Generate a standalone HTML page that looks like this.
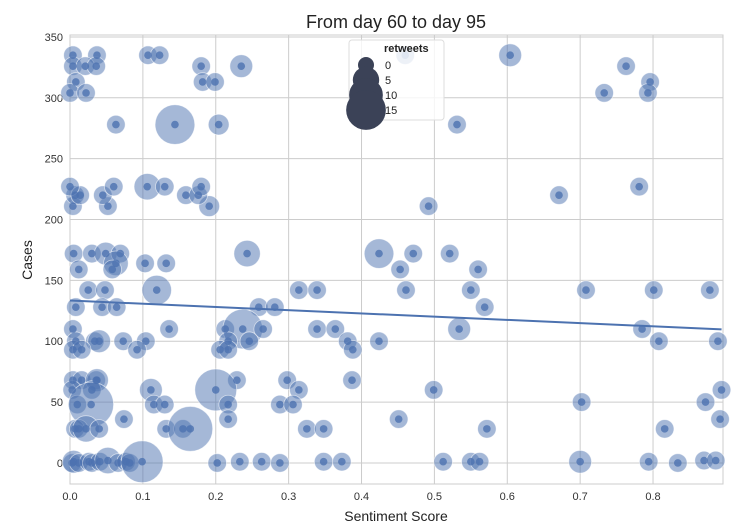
<!DOCTYPE html>
<html><head><meta charset="utf-8"><style>
body{margin:0;background:#fff;font-family:"Liberation Sans","DejaVu Sans",sans-serif}
</style></head><body>
<svg id="chart" width="731" height="527" xmlns="http://www.w3.org/2000/svg"></svg>
<script>
const sentiment=[.004,.037,.107,.123,.46,.604, .004,.021,.036,.18,.235,.763, .008,.182,.199,.796, 0,.022,.733,.793, .063,.144,.204,.531, .004,.052,.191,.492, .007,.014,.045,.159,.176,.671, 0,.06,.106,.13,.18,.781,
.005,.03,.049,.069,.243,.424,.471,.521, .063,.103,.132, .012,.058,.453,.56, .025,.048,.119,.314,.339,.461,.55,.708,.801,.878, .008,.044,.064,.259,.281,.569,
.004,.136,.213,.237,.265,.339,.364,.534,.785, .008,.034,.04,.073,.104,.217,.246,.381,.424,.808,.889, .004,.016,.092,.206,.217,.388,
.004,.016,.036,.037,.229,.298,.387, .003,.03,.111,.2,.314,.499,.894, .01,.029,.115,.13,.217,.288,.306, .074,.217,.451,.892, .702,.872,
.007,.012,.022,.04,.132,.155,.165,.325,.348,.572,.816,
.003,.005,.012,.026,.03,.041,.052,.066,.077,.082,.099,.202,.233,.263,.288,.348,.373,.512,.55,.562,.7,.834,.87,.794,.886];
const cases=[335,335,335,335,335,335, 326,326,326,326,326,326, 313,313,313,313, 304,304,304,304, 278,278,278,278, 211,211,211,211, 220,220,220,220,220,220, 227,227,227,227,227,227,
172,172,172,172,172,172,172,172, 164,164,164, 159,159,159,159, 142,142,142,142,142,142,142,142,142,142, 128,128,128,128,128,128,
110,110,110,110,110,110,110,110,110, 100,100,100,100,100,100,100,100,100,100,100, 93,93,93,93,93,93,
68,68,68,68,68,68,68, 60,60,60,60,60,60,60, 48,48,48,48,48,48,48, 36,36,36,36, 50,50,
28,28,28,28,28,28,28,28,28,28,28,
0,1,0,1,0,1,2,0,1,0,1,0,1,1,0,1,1,1,1,1,1,0,2,1,2];
const retweets=[1,1,1,1,1,3, 1,1,1,1,3,1, 1,1,1,1, 1,1,1,1, 1,15,2,1, 1,1,2,1, 1,1,1,1,1,1, 1,1,5,1,1,1,
1,1,3,1,5,7,1,1, 4,1,1, 1,1,1,1, 1,1,7,1,1,1,1,1,1,1, 1,1,1,1,1,1,
1,1,1,15,1,1,1,3,1, 1,1,3,1,1,1,1,1,1,1,1, 1,1,1,1,1,1,
1,1,1,3,1,1,1, 1,1,3,17,1,1,1, 1,20,1,1,1,1,1, 1,1,1,1, 1,1,
1,1,5,1,1,1,20,1,1,1,1,
1,3,1,1,1,1,5,1,1,1,17,1,1,1,1,1,1,1,1,1,3,1,1,1,1];
const xTicks=[0,.1,.2,.3,.4,.5,.6,.7,.8];
const xTickLabels=["0.0","0.1","0.2","0.3","0.4","0.5","0.6","0.7","0.8"];
const yTicks=[0,50,100,150,200,250,300,350];
const legendValues=[0,5,10,15];

const NS="http://www.w3.org/2000/svg";
const svg=document.getElementById('chart');
const L=70,R=723,T=35,B=484;
const x0=0,x1=0.896,y0=-17.3,y1=351.6;
const sx=v=>L+(v-x0)/(x1-x0)*(R-L);
const sy=v=>B-(v-y0)/(y1-y0)*(B-T);
const rs=v=>Math.sqrt(64+22*v);
function mk(t,a,p){const e=document.createElementNS(NS,t);for(const k in a)e.setAttribute(k,a[k]);(p||svg).appendChild(e);return e;}

mk('rect',{x:L,y:T,width:R-L,height:B-T,fill:'#fff',stroke:'#cccccc','stroke-width':1});
xTicks.forEach((t,i)=>{
 const gl=mk('line',{x1:sx(t),x2:sx(t),y1:T,y2:B,stroke:'#cccccc','stroke-width':1});
 
 
 const tx=mk('text',{x:sx(t),y:B+16,'font-size':11,'text-anchor':'middle',fill:'#333'});
 tx.textContent=xTickLabels[i];
 
 
});
yTicks.forEach(t=>{
 const gl=mk('line',{x1:L,x2:R,y1:sy(t),y2:sy(t),stroke:'#cccccc','stroke-width':1});
 
 
 const tx=mk('text',{x:L-7,y:sy(t)+4,'font-size':11,'text-anchor':'end',fill:'#333'});
 tx.textContent=t;
 
 
});
// size-encoded layer
sentiment.forEach((s,i)=>{
 const c=mk('circle',{cx:sx(s),cy:sy(cases[i]),r:rs(retweets[i]),fill:'#4c72b0','fill-opacity':0.5,stroke:'#fff','stroke-opacity':0.6,'stroke-width':0.8});
 
 
});
// regression scatter dots
sentiment.forEach((s,i)=>{
 const c=mk('circle',{cx:sx(s),cy:sy(cases[i]),r:3.8,fill:'#4c72b0','fill-opacity':0.8});
 
 
});
// regression line
const n=sentiment.length;let mx=0,my=0;
sentiment.forEach((s,i)=>{mx+=s;my+=cases[i];});mx/=n;my/=n;
let sxy=0,sxx=0;sentiment.forEach((s,i)=>{sxy+=(s-mx)*(cases[i]-my);sxx+=(s-mx)**2;});
const slope=sxy/sxx,icpt=my-slope*mx;
const xmin=Math.min(...sentiment),xmax=Math.max(...sentiment);
const rl=mk('line',{x1:sx(xmin),y1:sy(icpt+slope*xmin),x2:sx(xmax),y2:sy(icpt+slope*xmax),stroke:'#4c72b0','stroke-width':2});


// legend
const lg=mk('g',{});


mk('rect',{x:349,y:40,width:95,height:80,rx:3,fill:'#fff','fill-opacity':0.8,stroke:'#dddddd'},lg);
const lt=mk('text',{x:384,y:52,'font-size':11,'font-weight':'bold',fill:'#222'},lg);lt.textContent='retweets';
legendValues.forEach((v,i)=>{
 const y=65+i*15;
 const c=mk('circle',{cx:366,cy:y,r:rs(v),fill:'#3b4257'},lg);
 
 
 const t=mk('text',{x:385,y:y+4,'font-size':11,fill:'#222'},lg);t.textContent=v;
 
 
});
const ti=mk('text',{x:396,y:28,'font-size':18,'text-anchor':'middle',fill:'#222'});ti.textContent='From day 60 to day 95';

const xl=mk('text',{x:396,y:521,'font-size':14,'text-anchor':'middle',fill:'#222'});xl.textContent='Sentiment Score';

const yl=mk('text',{x:32,y:260,'font-size':14,'text-anchor':'middle',fill:'#222',transform:'rotate(-90 32 260)'});yl.textContent='Cases';

</script>
</body></html>
